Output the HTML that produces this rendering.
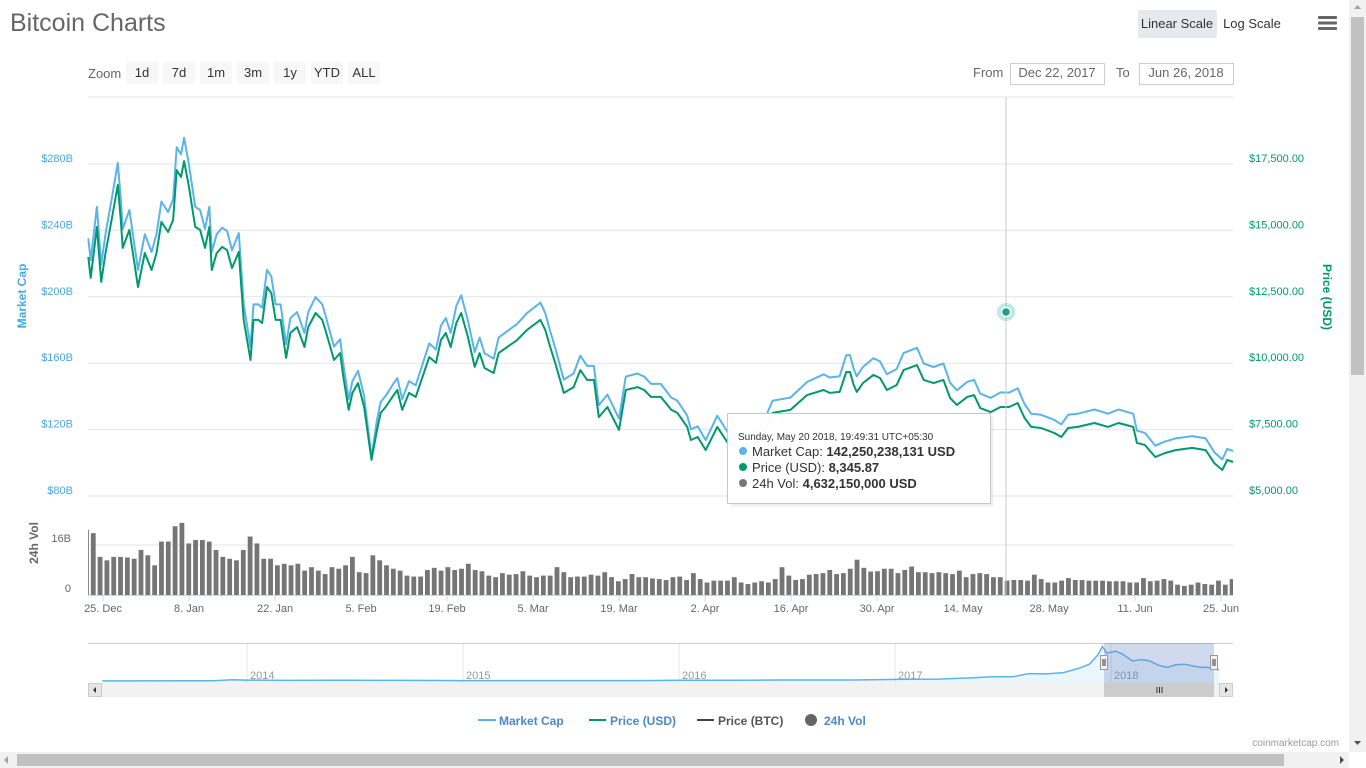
<!DOCTYPE html>
<html><head><meta charset="utf-8"><title>Bitcoin Charts</title>
<style>
html,body{margin:0;padding:0;width:1366px;height:768px;overflow:hidden;background:#fff;font-family:"Liberation Sans",sans-serif;}
svg{position:absolute;left:0;top:0;}
text{font-family:"Liberation Sans",sans-serif;}
</style></head>
<body>
<svg id="chart" width="1366" height="768" viewBox="0 0 1366 768">
  <text x="10" y="31" font-size="25" fill="#666">Bitcoin Charts</text>
  <rect x="1138" y="10" width="79" height="28" rx="2" fill="#e6e9ed"/>
  <text x="1177" y="28" font-size="13" fill="#333" text-anchor="middle">Linear Scale</text>
  <text x="1252" y="28" font-size="13" fill="#333" text-anchor="middle">Log Scale</text>
  <g fill="#666">
    <rect x="1318" y="16" width="19" height="3" rx="1"/><rect x="1318" y="21.5" width="19" height="3" rx="1"/><rect x="1318" y="27" width="19" height="3" rx="1"/>
  </g>
  <text x="88" y="78" font-size="13" fill="#666">Zoom</text>
  <g id="zoomBtns"></g>
  <text x="973" y="77" font-size="13" fill="#666">From</text>
  <rect x="1010.5" y="63.5" width="94" height="21" fill="#fff" stroke="#ccc"/>
  <text x="1057" y="77" font-size="13" fill="#666" text-anchor="middle">Dec 22, 2017</text>
  <text x="1116" y="77" font-size="13" fill="#666">To</text>
  <rect x="1139.5" y="63.5" width="94" height="21" fill="#fff" stroke="#ccc"/>
  <text x="1186" y="77" font-size="13" fill="#666" text-anchor="middle">Jun 26, 2018</text>

  <g id="grid"></g>
  <g id="vol"></g>
  <g id="lines"></g>
  <g id="axes"></g>
  <line x1="1006" y1="97" x2="1006" y2="596" stroke="#c8c8c8" stroke-width="1"/>
  <g>
    <circle cx="1006" cy="312" r="9" fill="#2bb5a5" opacity="0.3"/>
    <circle cx="1006" cy="312" r="4.5" fill="#1a9e8c" stroke="#fff" stroke-width="1.5"/>
  </g>
  <text transform="translate(26,296) rotate(-90)" font-size="12" font-weight="bold" fill="#4aa8e2" text-anchor="middle">Market Cap</text>
  <text transform="translate(1323,297) rotate(90)" font-size="12" font-weight="bold" fill="#00996b" text-anchor="middle">Price (USD)</text>
  <text transform="translate(38,543) rotate(-90)" font-size="12" font-weight="bold" fill="#666" text-anchor="middle">24h Vol</text>

  <g>
    <rect x="728.5" y="414.5" width="263" height="90" fill="#000" opacity="0.06" transform="translate(2,2)"/>
    <rect x="727.5" y="413.5" width="263" height="90" fill="#fff" fill-opacity="0.96" stroke="#c8c8c8"/>
    <text x="738" y="440" font-size="10" fill="#333">Sunday, May 20 2018, 19:49:31 UTC+05:30</text>
    <circle cx="743" cy="451" r="4" fill="#5ab4ea"/>
    <text x="752" y="456" font-size="13" fill="#333">Market Cap: <tspan font-weight="bold">142,250,238,131 USD</tspan></text>
    <circle cx="743" cy="467" r="4" fill="#00996b"/>
    <text x="752" y="472" font-size="13" fill="#333">Price (USD): <tspan font-weight="bold">8,345.87</tspan></text>
    <circle cx="743" cy="483" r="4" fill="#777"/>
    <text x="752" y="488" font-size="13" fill="#333">24h Vol: <tspan font-weight="bold">4,632,150,000 USD</tspan></text>
  </g>

  <g id="nav"></g>

  <g>
    <g><line x1="478" y1="720" x2="496" y2="720" stroke="#5ab4ea" stroke-width="2"/><text x="499" y="725" font-size="12" font-weight="bold" fill="#4a88c8">Market Cap</text></g>
    <g><line x1="589" y1="720" x2="606" y2="720" stroke="#00996b" stroke-width="2"/><text x="610" y="725" font-size="12" font-weight="bold" fill="#4a88c8">Price (USD)</text></g>
    <g><line x1="697" y1="720" x2="714" y2="720" stroke="#434348" stroke-width="2"/><text x="718" y="725" font-size="12" font-weight="bold" fill="#555">Price (BTC)</text></g>
    <g><circle cx="811" cy="720" r="6" fill="#666"/><text x="824" y="725" font-size="12" font-weight="bold" fill="#4a88c8">24h Vol</text></g>
  </g>
  <text x="1339" y="746" font-size="10" fill="#999" text-anchor="end">coinmarketcap.com</text>

  <g>
    <rect x="1349" y="0" width="17" height="752" fill="#f1f1f1"/>
    <rect x="1351" y="17" width="13" height="358" fill="#c1c1c1"/>
    <path d="M1354,9 L1361,9 L1357.5,5 Z" fill="#a3a3a3"/>
    <path d="M1354,741 L1361,741 L1357.5,745 Z" fill="#505050"/>
  </g>
  <g>
    <rect x="0" y="752" width="1349" height="16" fill="#f1f1f1"/>
    <rect x="17" y="754" width="1267" height="12" fill="#c1c1c1"/>
    <path d="M8,756 L8,764 L4,760 Z" fill="#a3a3a3"/>
    <path d="M1340,756 L1340,764 L1344,760 Z" fill="#505050"/>
  </g>
</svg>
<script>
// ---- data ----
const priceDays = [0.6,1,2,2.7,3.4,4.4,5.4,5.9,6.2,7.3,8.7,9.8,10.9,11.7,12.5,13.6,14.4,15,15.7,16.2,17,18,18.8,19.6,20.3,20.7,21.5,22.4,23.2,24,25.1,25.9,27,27.5,28.3,28.9,29.7,30.4,31.1,31.9,32.8,33.5,34.6,35.8,36.4,37.6,38.7,39.2,40.6,41.6,42.2,43,43.6,44.5,45.5,46.7,47.6,48.2,49,50.1,50.9,51.7,52.8,53.9,55,56.1,57.2,58,58.8,59.6,60.5,61.3,62.4,63.5,64.3,65.1,66.6,67.4,68.8,70.4,72,74.2,75,75.8,76.6,78,79.6,80.7,81.8,82.9,83.7,85.1,87,88.1,90,91.1,92.2,93.8,95.5,96.5,98.1,98.7,99.8,101.1,103,104.7,107,110,112,114.9,117.6,120.3,121.3,122.9,124,124.6,125.2,125.7,126.7,128.4,129.5,130.6,132.2,133.3,135.5,136.6,138.2,139.8,140.9,142,143.7,144.8,145.8,147.5,149.1,150.5,151.9,153,154.1,155.7,157.9,159,160.1,161.7,164.4,166.6,168.3,170.7,171.3,172.6,174.3,175.9,177.6,180.3,182.5,183.9,185.2,186,187];
const priceUSD = [14000,13210,15130,13060,14150,15390,16710,15390,14340,15020,12870,14150,13510,14150,15320,14940,15390,17270,17010,17610,16630,15130,15020,14340,15130,13510,14150,14380,14260,13580,14190,11630,10120,11630,11630,11510,12870,12640,11630,11630,10200,11140,11360,10610,11360,11890,11630,11250,10120,10380,9370,8240,8880,9250,8350,6360,7490,8130,8350,8730,8990,8240,8880,8730,9480,10230,10010,10870,11140,10610,11510,11890,10990,9860,10380,9820,9630,10380,10610,10870,11250,11630,11250,10610,10010,8880,9100,9740,9370,9370,7970,8350,7490,8990,9100,8990,8730,8730,8240,8130,7600,7110,7220,6730,7600,7000,6850,7110,8130,8240,8800,8990,8880,8920,9670,9670,9180,8920,9250,9560,9440,8990,9180,9740,9930,9370,9250,9370,8690,8430,8730,8800,8310,8160,8350,8350,8500,7940,7600,7560,7370,7220,7560,7600,7750,7600,7750,7600,7000,6920,6470,6620,6730,6810,6730,6240,5980,6360,6280];
const marketCapB = [235.2,221.9,254.2,219.4,237.7,258.6,280.7,258.6,240.9,252.3,216.2,237.7,227.0,237.7,257.4,251.0,258.6,290.1,285.8,295.8,279.4,254.2,252.3,240.9,254.2,227.0,237.7,241.6,239.6,228.1,238.4,195.4,170.0,195.4,195.4,193.4,216.2,212.4,195.4,195.4,171.4,187.2,190.8,178.2,190.8,199.8,195.4,189.0,170.0,174.4,157.4,138.4,149.2,155.4,140.3,103.5,125.8,136.6,140.3,146.7,151.0,138.4,149.2,146.7,159.3,171.9,168.2,182.6,187.2,178.2,194.5,200.9,185.7,166.6,175.4,166.0,162.7,175.4,179.3,183.7,190.1,196.5,190.1,179.3,169.2,150.1,153.8,164.6,158.4,158.4,134.7,141.1,126.6,151.9,153.8,151.9,147.5,147.5,139.3,137.4,128.4,120.2,122.0,113.7,128.4,118.3,115.8,120.2,137.4,139.3,148.7,153.3,151.4,152.1,164.9,164.9,156.5,152.1,157.7,163.0,161.0,153.3,156.5,166.1,169.3,159.8,157.7,159.8,148.2,143.7,148.8,150.0,141.7,139.1,142.4,142.3,144.9,135.4,129.6,128.9,125.7,123.1,128.9,129.6,132.1,129.6,132.1,129.6,119.4,118.0,110.3,112.9,114.7,116.1,114.7,106.4,102.0,108.4,107.1];
const volumeB = [20.9,19.8,12.2,11.1,12.2,12.2,12,11.6,14.4,12.7,9.5,17.1,17.1,22,23.1,16.5,17.6,17.6,17.1,14.4,12.2,11.6,11.1,14.4,18.7,16.5,11.6,11.6,9.5,10,9.5,10,7.8,8.9,7.8,6.7,8.9,8.4,9.5,12.2,7.3,7,12.7,11.1,9.5,8.4,7.8,6.2,5.9,5.9,8,8.7,7.8,8.9,8,8.4,10,8,7.6,6.2,5.7,7,6.5,6.7,7.6,6.2,5.7,6.2,6.2,8.9,7.3,5.7,5.9,5.9,6.5,6.2,7.3,5.7,4.4,5.1,6.7,5.7,5.7,5.3,5.1,
 4.8,5.7,5.9,4.8,7,5.1,4,4.6,4.6,4.6,5.7,4,3.5,4,4.4,4,5.1,8.9,6.2,4.8,5.1,6.5,6.7,7,8,6.7,7,8.4,11.3,8.7,7.5,7.6,8.4,8.4,7,8,9.1,7.3,7.3,7,7.3,7,6.7,7.8,5.7,6.7,7,6.7,5.7,5.7,4.6,4.8,4.8,4.6,6.5,5.1,4,4,4.6,5.4,4.8,4.8,4.6,4.6,4.6,4.4,4.4,4.4,4,4,5.4,4.4,4.6,5.1,4.6,3.3,2.9,3.3,4,3.5,3.3,4.6,3.3,5.1];
const xTickLabels = ["25. Dec","8. Jan","22. Jan","5. Feb","19. Feb","5. Mar","19. Mar","2. Apr","16. Apr","30. Apr","14. May","28. May","11. Jun","25. Jun"];
const xTickDays = [3,17,31,45,59,73,87,101,115,129,143,157,171,185];
const capTicks = [80,120,160,200,240,280];
const priceTicks = [5000,7500,10000,12500,15000,17500];
const navYears = [2013.33,2013.5,2013.7,2013.85,2013.93,2014.0,2014.1,2014.2,2014.4,2014.5,2014.7,2014.9,2015.0,2015.2,2015.5,2015.8,2015.9,2016.0,2016.3,2016.45,2016.6,2016.8,2017.0,2017.1,2017.2,2017.35,2017.45,2017.55,2017.62,2017.7,2017.78,2017.85,2017.9,2017.94,2017.96,2017.98,2018.02,2018.05,2018.1,2018.14,2018.18,2018.22,2018.26,2018.3,2018.34,2018.38,2018.42,2018.45,2018.48,2018.5];
const navCapB = [1.3,1.0,1.5,3,12,9,8,6,7,8,6,5,4,3.5,3.7,3.5,5,6.5,6.5,10,9.5,10,15,17,18,30,40,42,70,68,80,120,160,250,330,265,285,260,190,205,190,150,130,155,160,143,130,130,112,107];
const navYearLabels = ["2014","2015","2016","2017","2018"];

// ---- scales ----
const NS = "http://www.w3.org/2000/svg";
const X0 = 88, X1 = 1233;
const xDay = d => 84.6 + d * 6.143;
const yCap = c => 496 - (c - 80) / 40 * 66.4;
const yPrice = p => 496 - (p - 5000) / 2500 * 66.4;
const yVol = v => 595 - v * 3.125;
const xNav = yr => 247 + (yr - 2014) * 216;
const yNav = c => 681 - c * 0.105;
function mk(tag, attrs, parent) {
  const e = document.createElementNS(NS, tag);
  for (const k in attrs) e.setAttribute(k, attrs[k]);
  parent.appendChild(e);
  return e;
}
function txt(parent, x, y, s, size, fill, anchor) {
  const t = mk('text', {x: x, y: y, 'font-size': size, fill: fill, 'text-anchor': anchor || 'start'}, parent);
  t.textContent = s;
  return t;
}

// zoom buttons
const zoomLabels = ["1d","7d","1m","3m","1y","YTD","ALL"];
const zb = document.getElementById('zoomBtns');
zoomLabels.forEach((l, i) => {
  const g = mk('g', {}, zb);
  
  
  mk('rect', {x: 126 + i * 37, y: 62, width: 32, height: 22, rx: 2, fill: '#f7f7f7'}, g);
  txt(g, 142 + i * 37, 77, l, 13, '#333', 'middle');
});

// grid
const grid = document.getElementById('grid');
[97].concat(capTicks.map(yCap)).forEach(y => {
  const l = mk('line', {x1: X0, x2: X1, y1: y, y2: y, stroke: '#e6e6e6', 'stroke-width': 1}, grid);
  
  
});
const vg = mk('line', {x1: X0, x2: X1, y1: yVol(16), y2: yVol(16), stroke: '#e6e6e6'}, grid);



// axes labels
const axes = document.getElementById('axes');
capTicks.forEach(c => {
  const t = txt(axes, 73, yCap(c) - 2, '$' + c + 'B', 11, '#4aa8e2', 'end');
  
  
});
priceTicks.forEach(p => {
  const t = txt(axes, 1249, yPrice(p) - 2, '$' + p.toLocaleString('en-US') + '.00', 11, '#00996b', 'start');
  
  
});
[[16, '16B'], [0, '0']].forEach(v => {
  const t = txt(axes, 71, yVol(v[0]) - 3, v[1], 11, '#666', 'end');
  
  
});
mk('line', {x1: X0, x2: X1, y1: 595.5, y2: 595.5, stroke: '#ccd6eb'}, axes);
xTickDays.forEach((d, i) => {
  mk('line', {x1: xDay(d), x2: xDay(d), y1: 596, y2: 601, stroke: '#ccd6eb'}, axes);
  const t = txt(axes, xDay(d), 612, xTickLabels[i], 11, '#666', 'middle');
  
  
});

// volume bars
const vol = document.getElementById('vol');
volumeB.forEach((v, i) => {
  const d = 0.3 + i * 186.5 / (volumeB.length - 1);
  const x = xDay(d);
  const x0 = Math.max(X0, x - 2.4), x1 = Math.min(X1, x + 2.4);
  if (x1 <= x0) return;
  const r = mk('rect', {x: x0, y: yVol(v), width: x1 - x0, height: 595 - yVol(v), fill: '#757575'}, vol);
  
  
});

// lines
const lines = document.getElementById('lines');
function pathFrom(vals, yf) {
  return vals.map((v, i) => (i ? 'L' : 'M') + Math.min(X1, Math.max(X0, xDay(priceDays[i]))).toFixed(1) + ',' + yf(v).toFixed(1)).join('');
}
const capPath = mk('path', {d: pathFrom(marketCapB, yCap), fill: 'none', stroke: '#5ab4ea', 'stroke-width': 2, 'stroke-linejoin': 'round'}, lines);


const pricePath = mk('path', {d: pathFrom(priceUSD, yPrice), fill: 'none', stroke: '#00996b', 'stroke-width': 2, 'stroke-linejoin': 'round'}, lines);



// navigator
const nav = document.getElementById('nav');


navYearLabels.forEach((y, i) => {
  const x = xNav(2014 + i);
  mk('line', {x1: x, x2: x, y1: 643, y2: 683, stroke: '#e6e6e6'}, nav);
  const t = txt(nav, x + 3, 679, y, 11, '#999', 'start');
  
  
});
mk('line', {x1: X0, x2: X1, y1: 643.5, y2: 643.5, stroke: '#ccc'}, nav);
let nd = navCapB.map((c, i) => (i ? 'L' : 'M') + xNav(navYears[i]).toFixed(1) + ',' + yNav(c).toFixed(1)).join('');
const navArea = mk('path', {d: nd + 'L' + xNav(navYears[navYears.length - 1]) + ',683L' + xNav(navYears[0]) + ',683Z', fill: '#5ab4ea', 'fill-opacity': 0.12}, nav);


const navLine = mk('path', {d: nd, fill: 'none', stroke: '#5ab4ea', 'stroke-width': 1.5}, nav);


const mask = mk('rect', {x: 1104, y: 643, width: 110, height: 40, fill: 'rgba(102,133,194,0.3)'}, nav);


// scrollbar
mk('rect', {x: X0, y: 683, width: X1 - X0, height: 14, fill: '#f2f2f2'}, nav);
const thumb = mk('rect', {x: 1104, y: 683, width: 110, height: 14, fill: '#cccccc'}, nav);


[1157, 1159.5, 1162].forEach(x => mk('line', {x1: x, x2: x, y1: 687, y2: 693, stroke: '#333'}, nav));
const lb = mk('rect', {x: 88.5, y: 683.5, width: 13, height: 13, fill: '#e6e6e6', stroke: '#ccc'}, nav);


mk('path', {d: 'M96,687 L96,693 L93,690 Z', fill: '#333'}, nav);
const rb = mk('rect', {x: 1219.5, y: 683.5, width: 13, height: 13, fill: '#e6e6e6', stroke: '#ccc'}, nav);


mk('path', {d: 'M1225,687 L1225,693 L1228,690 Z', fill: '#333'}, nav);
[1104, 1214].forEach(x => {
  const h = mk('g', {}, nav);
  
  
  mk('rect', {x: x - 3.5, y: 655.5, width: 7, height: 14, fill: '#f2f2f2', stroke: '#999'}, h);
  mk('line', {x1: x - 1, x2: x - 1, y1: 659, y2: 666, stroke: '#333'}, h);
  mk('line', {x1: x + 1, x2: x + 1, y1: 659, y2: 666, stroke: '#333'}, h);
});
</script>
</body></html>
